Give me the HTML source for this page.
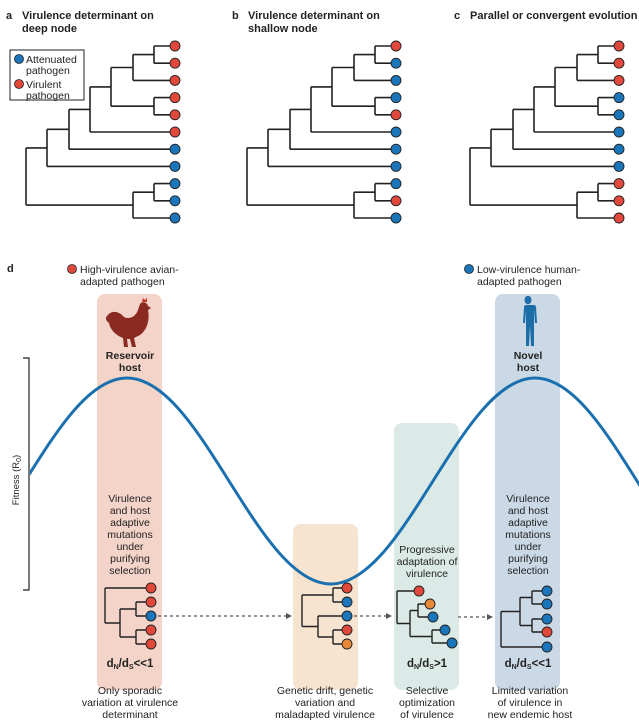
<!DOCTYPE html>
<html><head><meta charset="utf-8"><style>
html,body{margin:0;padding:0;background:#fff}
svg{display:block}
text{font-family:"Liberation Sans",sans-serif;fill:#222}
.b{font-weight:bold}
</style></head><body>
<svg width="639" height="727" viewBox="0 0 639 727" xmlns="http://www.w3.org/2000/svg">
<defs>
<g id="tree" fill="none" stroke="#222" stroke-width="1.6">
<path d="M26,147.9V205.1M26,147.9H47M26,205.1H133M47,129.3V166.4M47,129.3H69M47,166.4H175M69,109.4V149.2M69,109.4H90M69,149.2H175M90,86.9V132M90,86.9H111M90,132H175M111,67.5V106.2M111,67.5H133M111,106.2H154M133,54.6V80.4M133,54.6H154M133,80.4H175M154,46V63.2M154,46H175M154,63.2H175M154,97.6V114.8M154,97.6H175M154,114.8H175M133,192.2V218M133,192.2H154M133,218H175M154,183.6V200.8M154,183.6H175M154,200.8H175"/>
</g>
<clipPath id="cl"><rect x="30" y="300" width="609" height="320"/></clipPath>
</defs>

<text x="6" y="19" font-size="11" class="b">a</text>
<text x="22" y="19" font-size="11" class="b">Virulence determinant on</text>
<text x="22" y="32" font-size="11" class="b">deep node</text>
<text x="232" y="19" font-size="11" class="b">b</text>
<text x="248" y="19" font-size="11" class="b">Virulence determinant on</text>
<text x="248" y="32" font-size="11" class="b">shallow node</text>
<text x="454" y="19" font-size="11" class="b">c</text>
<text x="470" y="19" font-size="11" class="b">Parallel or convergent evolution</text>

<rect x="10" y="50" width="74" height="50" fill="#fff" stroke="#222" stroke-width="1"/>
<circle cx="19" cy="59" r="4.5" fill="#1b75bb" stroke="#222" stroke-width="0.8"/>
<text x="26" y="63" font-size="10.5">Attenuated</text>
<text x="26" y="74" font-size="10.5">pathogen</text>
<circle cx="19" cy="84" r="4.5" fill="#e0483b" stroke="#222" stroke-width="0.8"/>
<text x="26" y="88" font-size="10.5">Virulent</text>
<text x="26" y="99" font-size="10.5">pathogen</text>

<use href="#tree"/>
<use href="#tree" transform="translate(221,0)"/>
<use href="#tree" transform="translate(444,0)"/>
<g stroke="#222" stroke-width="0.9">
<circle cx="175" cy="46" r="5" fill="#e0483b"/><circle cx="175" cy="63.2" r="5" fill="#e0483b"/><circle cx="175" cy="80.4" r="5" fill="#e0483b"/><circle cx="175" cy="97.6" r="5" fill="#e0483b"/><circle cx="175" cy="114.8" r="5" fill="#e0483b"/><circle cx="175" cy="132" r="5" fill="#e0483b"/><circle cx="175" cy="149.2" r="5" fill="#1b75bb"/><circle cx="175" cy="166.4" r="5" fill="#1b75bb"/><circle cx="175" cy="183.6" r="5" fill="#1b75bb"/><circle cx="175" cy="200.8" r="5" fill="#1b75bb"/><circle cx="175" cy="218" r="5" fill="#1b75bb"/>
<circle cx="396" cy="46" r="5" fill="#e0483b"/><circle cx="396" cy="63.2" r="5" fill="#1b75bb"/><circle cx="396" cy="80.4" r="5" fill="#1b75bb"/><circle cx="396" cy="97.6" r="5" fill="#1b75bb"/><circle cx="396" cy="114.8" r="5" fill="#e0483b"/><circle cx="396" cy="132" r="5" fill="#1b75bb"/><circle cx="396" cy="149.2" r="5" fill="#1b75bb"/><circle cx="396" cy="166.4" r="5" fill="#1b75bb"/><circle cx="396" cy="183.6" r="5" fill="#1b75bb"/><circle cx="396" cy="200.8" r="5" fill="#e0483b"/><circle cx="396" cy="218" r="5" fill="#1b75bb"/>
<circle cx="619" cy="46" r="5" fill="#e0483b"/><circle cx="619" cy="63.2" r="5" fill="#e0483b"/><circle cx="619" cy="80.4" r="5" fill="#e0483b"/><circle cx="619" cy="97.6" r="5" fill="#1b75bb"/><circle cx="619" cy="114.8" r="5" fill="#1b75bb"/><circle cx="619" cy="132" r="5" fill="#1b75bb"/><circle cx="619" cy="149.2" r="5" fill="#1b75bb"/><circle cx="619" cy="166.4" r="5" fill="#1b75bb"/><circle cx="619" cy="183.6" r="5" fill="#e0483b"/><circle cx="619" cy="200.8" r="5" fill="#e0483b"/><circle cx="619" cy="218" r="5" fill="#e0483b"/>
</g>

<text x="7" y="272" font-size="11" class="b">d</text>
<circle cx="72" cy="269" r="4.5" fill="#e0483b" stroke="#222" stroke-width="0.8"/>
<text x="80" y="273" font-size="10.5">High-virulence avian-</text>
<text x="80" y="285" font-size="10.5">adapted pathogen</text>
<circle cx="469" cy="269" r="4.5" fill="#1b75bb" stroke="#222" stroke-width="0.8"/>
<text x="477" y="273" font-size="10.5">Low-virulence human-</text>
<text x="477" y="285" font-size="10.5">adapted pathogen</text>

<rect x="97" y="294" width="65" height="396" rx="8" fill="#f4d3c8"/>
<rect x="293" y="524" width="65" height="166" rx="8" fill="#f6e3d0"/>
<rect x="394" y="423" width="65" height="267" rx="8" fill="#dbeae6"/>
<rect x="495" y="294" width="65" height="396" rx="8" fill="#cbd9e6"/>

<!-- hen -->
<g fill="#8b2a22">
<path d="M107,316 C112,309 120,312 124,317 C130,320 136,316 138,310 L140,304 C142,301 147,302 148,306 L151,308 L148,310 C150,320 147,330 140,335 L134,338 L136,347 L132,347 L130,339 L127,339 L128,347 L124,347 L123,338 C115,335 110,329 109,323 C106,321 105,318 107,316Z"/>
<path d="M142,302 l1,-4 l2,2 l2,-2 l0,4Z" fill="#c0392b"/>
</g>
<!-- human -->
<g fill="#1b6ea8">
<ellipse cx="528" cy="300" rx="3.5" ry="4.2"/>
<path d="M522,305 h12 c1,0 2,1 2,2 l1,16 h-2 l-1,-13 v36 h-3 l-1,-20 l-1,20 h-3 v-36 l-1,13 h-2 l1,-16 c0,-1 1,-2 2,-2z"/>
</g>
<text x="130" y="359" font-size="10.5" class="b" text-anchor="middle">Reservoir</text>
<text x="130" y="371" font-size="10.5" class="b" text-anchor="middle">host</text>
<text x="528" y="359" font-size="10.5" class="b" text-anchor="middle">Novel</text>
<text x="528" y="371" font-size="10.5" class="b" text-anchor="middle">host</text>

<path d="M23,358 H29 V590 H23" fill="none" stroke="#222" stroke-width="1.2"/>
<text transform="translate(19,480) rotate(-90)" font-size="9.5" text-anchor="middle">Fitness (R<tspan font-size="7" dy="2">0</tspan><tspan dy="-2">)</tspan></text>

<path clip-path="url(#cl)" d="M-77,584 C-2.7,584 52.7,378 127,378 C201.3,378 256.7,584 331,584 C405.3,584 460.7,378 535,378 C609.3,378 664.7,584 739,584" fill="none" stroke="#1a6fae" stroke-width="3"/>

<g font-size="10.5" text-anchor="middle">
<text x="130" y="502">Virulence</text><text x="130" y="514">and host</text><text x="130" y="526">adaptive</text><text x="130" y="538">mutations</text><text x="130" y="550">under</text><text x="130" y="562">purifying</text><text x="130" y="574">selection</text>
<text x="528" y="502">Virulence</text><text x="528" y="514">and host</text><text x="528" y="526">adaptive</text><text x="528" y="538">mutations</text><text x="528" y="550">under</text><text x="528" y="562">purifying</text><text x="528" y="574">selection</text>
<text x="427" y="553">Progressive</text><text x="427" y="565">adaptation of</text><text x="427" y="577">virulence</text>
</g>

<g fill="none" stroke="#222" stroke-width="1.4">
<path d="M105,588V623M105,588H151M105,623H120M120,609V637M120,609H136M120,637H136M136,602V616M136,602H151M136,616H151M136,630V644M136,630H151M136,644H151"/>
<path d="M302,595V626.5M302,595H333M302,626.5H318M333,588V602M333,588H347M333,602H347M318,616V637M318,616H347M318,637H333M333,630V644M333,630H347M333,644H347"/>
<path d="M397,591V623.5M397,591H419M397,623.5H410M410,610.5V636.5M410,610.5H418M410,636.5H432M418,604V617M418,604H430M418,617H433M432,630V643M432,630H445M432,643H452"/>
<path d="M501,611.5V647M501,611.5H520M501,647H547M520,597.5V625.5M520,597.5H532M520,625.5H532M532,591V604M532,591H547M532,604H547M532,619V632M532,619H547M532,632H547"/>
</g>
<g stroke="#222" stroke-width="0.9">
<circle cx="151" cy="588" r="5" fill="#e0483b"/><circle cx="151" cy="602" r="5" fill="#e0483b"/><circle cx="151" cy="616" r="5" fill="#1b75bb"/><circle cx="151" cy="630" r="5" fill="#e0483b"/><circle cx="151" cy="644" r="5" fill="#e0483b"/>
<circle cx="347" cy="588" r="5" fill="#e0483b"/><circle cx="347" cy="602" r="5" fill="#1b75bb"/><circle cx="347" cy="616" r="5" fill="#1b75bb"/><circle cx="347" cy="630" r="5" fill="#e0483b"/><circle cx="347" cy="644" r="5" fill="#e8893a"/>
<circle cx="419" cy="591" r="5" fill="#e0483b"/><circle cx="430" cy="604" r="5" fill="#e8893a"/><circle cx="433" cy="617" r="5" fill="#1b75bb"/><circle cx="445" cy="630" r="5" fill="#1b75bb"/><circle cx="452" cy="643" r="5" fill="#1b75bb"/>
<circle cx="547" cy="591" r="5" fill="#1b75bb"/><circle cx="547" cy="604" r="5" fill="#1b75bb"/><circle cx="547" cy="619" r="5" fill="#1b75bb"/><circle cx="547" cy="632" r="5" fill="#e0483b"/><circle cx="547" cy="647" r="5" fill="#1b75bb"/>
</g>

<g stroke="#555" stroke-width="1.3" stroke-dasharray="3,3" fill="none">
<path d="M158,616H286"/><path d="M354,616H386"/><path d="M458,617H488"/>
</g>
<g fill="#555">
<path d="M292,616l-6,-3v6z"/><path d="M392,616l-6,-3v6z"/><path d="M493,617l-6,-3v6z"/>
</g>

<g font-size="11.5" class="b" text-anchor="middle">
<text x="130" y="667" font-family="Liberation Serif,serif">d<tspan font-size="7" dy="2">N</tspan><tspan dy="-2">/d</tspan><tspan font-size="7" dy="2">S</tspan><tspan dy="-2">&lt;&lt;1</tspan></text>
<text x="427" y="667" font-family="Liberation Serif,serif">d<tspan font-size="7" dy="2">N</tspan><tspan dy="-2">/d</tspan><tspan font-size="7" dy="2">S</tspan><tspan dy="-2">&gt;1</tspan></text>
<text x="528" y="667" font-family="Liberation Serif,serif">d<tspan font-size="7" dy="2">N</tspan><tspan dy="-2">/d</tspan><tspan font-size="7" dy="2">S</tspan><tspan dy="-2">&lt;&lt;1</tspan></text>
</g>

<g font-size="10.5" text-anchor="middle">
<text x="130" y="694">Only sporadic</text><text x="130" y="706">variation at virulence</text><text x="130" y="718">determinant</text>
<text x="325" y="694">Genetic drift, genetic</text><text x="325" y="706">variation and</text><text x="325" y="718">maladapted virulence</text>
<text x="427" y="694">Selective</text><text x="427" y="706">optimization</text><text x="427" y="718">of virulence</text>
<text x="530" y="694">Limited variation</text><text x="530" y="706">of virulence in</text><text x="530" y="718">new endemic host</text>
</g>
</svg>
</body></html>
